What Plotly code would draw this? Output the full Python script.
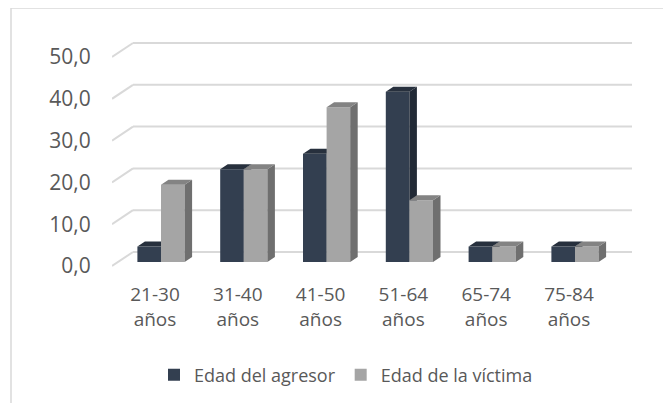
import plotly.graph_objects as go

# ---------------- data ----------------
categories = ["21-30<br>años", "31-40<br>años", "41-50<br>años",
              "51-64<br>años", "65-74<br>años", "75-84<br>años"]
agresor = [3.7, 22.2, 25.9, 40.7, 3.7, 3.7]
victima = [18.5, 22.2, 37.0, 14.8, 3.7, 3.7]
y_ticks = [0, 10, 20, 30, 40, 50]
y_ticktext = ["0,0", "10,0", "20,0", "30,0", "40,0", "50,0"]
series_names = ["Edad del agresor", "Edad de la víctima"]

# ---------------- style / geometry ----------------
PAGE_W, PAGE_H = 671, 403
BODY = 8                                 # default page body margin
W, H = PAGE_W - BODY, PAGE_H - BODY      # figure size
L, R, T, B = 112, 640, 30, 275          # plot area in page px
XU = 82.8                                # px per category
YU = 4.18                                # px per value unit
xmin = -(161 - L) / XU
xmax = xmin + (R - L) / XU
ymax = (262 - T) / YU
ymin = -(B - 262) / YU

BAR_W = 0.285
BAR_DX = 7.5 / XU     # bar depth (x)
BAR_DY = 5.0 / YU     # bar depth (y)
FRONT_DX = -6 / XU    # floor front relative to bar plane
FRONT_DY = -4 / YU
BACK_DX = 15 / XU     # back wall relative to bar plane
BACK_DY = 10 / YU
WALL_RIGHT = 5 + (632 - 575) / XU

C_AGR = ["#333F50", "#222A36", "#27303D"]   # front, side, top
C_VIC = ["#A5A5A5", "#6F6F6F", "#838383"]
GRID = "#D9D9D9"
TXT = "#595959"
FONT = "Open Sans"

xs = list(range(len(categories)))


def faces(values, offset):
    sx, sy, tx, ty = [], [], [], []
    for i, v in zip(xs, values):
        x0 = i + offset
        x1 = x0 + BAR_W
        # side
        sx += [x1, x1, x1 + BAR_DX, x1 + BAR_DX, x1, None]
        sy += [0, v, v + BAR_DY, BAR_DY, 0, None]
        # top
        tx += [x0, x1, x1 + BAR_DX, x0 + BAR_DX, x0, None]
        ty += [v, v, v + BAR_DY, v + BAR_DY, v, None]
    return sx, sy, tx, ty


fig = go.Figure()


def add_series(values, offset, colors, name, xa, ya):
    fig.add_trace(go.Bar(x=xs, y=values, width=BAR_W, offset=offset,
                         marker=dict(color=colors[0], line=dict(width=0)),
                         name=name, xaxis=xa, yaxis=ya, hoverinfo="y"))
    sx, sy, tx, ty = faces(values, offset)
    fig.add_trace(go.Scatter(x=sx, y=sy, fill="toself", fillcolor=colors[1],
                             mode="lines", line=dict(width=0, color=colors[1]),
                             showlegend=False, hoverinfo="skip", xaxis=xa, yaxis=ya))
    fig.add_trace(go.Scatter(x=tx, y=ty, fill="toself", fillcolor=colors[2],
                             mode="lines", line=dict(width=0, color=colors[2]),
                             showlegend=False, hoverinfo="skip", xaxis=xa, yaxis=ya))


add_series(agresor, -BAR_W, C_AGR, series_names[0], "x", "y")
add_series(victima, 0.0, C_VIC, series_names[1], "x2", "y2")

# gridlines (left side wall + back wall)
shapes = []
for t in y_ticks:
    xf, yf = xmin, t + FRONT_DY
    xb, yb = xmin + (BACK_DX - FRONT_DX), t + BACK_DY
    shapes.append(dict(type="line", xref="x", yref="y", x0=xf, y0=yf, x1=xb, y1=yb,
                       line=dict(color=GRID, width=2), layer="below"))
    shapes.append(dict(type="line", xref="x", yref="y", x0=xb, y0=yb, x1=WALL_RIGHT, y1=yb,
                       line=dict(color=GRID, width=2), layer="below"))
# chart border
shapes.append(dict(type="rect", xref="paper", yref="paper",
                   x0=(11 - L) / (R - L), x1=(PAGE_W + 5 - L) / (R - L),
                   y0=(B - (PAGE_H + 10)) / (B - T), y1=(B - 8) / (B - T),
                   line=dict(color=GRID, width=1.5), layer="below"))

axis_common = dict(showgrid=False, zeroline=False, showline=False, automargin=False)
fig.update_layout(
    width=W, height=H,
    margin=dict(l=L - BODY, r=PAGE_W - R, t=T - BODY, b=PAGE_H - B, autoexpand=False),
    paper_bgcolor="white", plot_bgcolor="white",
    barmode="overlay",
    font=dict(family=FONT, color=TXT),
    shapes=shapes,
    xaxis=dict(range=[xmin, xmax], tickvals=[i + FRONT_DX for i in xs], ticktext=categories,
               ticks="outside", ticklen=2, tickcolor="rgba(0,0,0,0)",
               tickfont=dict(size=19, color=TXT, family=FONT), **axis_common),
    yaxis=dict(range=[ymin, ymax], tickvals=[t + FRONT_DY for t in y_ticks], ticktext=y_ticktext,
               ticks="outside", ticklen=16, tickcolor="rgba(0,0,0,0)",
               tickfont=dict(size=21, color=TXT, family=FONT), **axis_common),
    xaxis2=dict(range=[xmin, xmax], overlaying="x", visible=False, **axis_common),
    yaxis2=dict(range=[ymin, ymax], overlaying="y", visible=False, **axis_common),
    legend=dict(orientation="h", x=(346 - L) / (R - L), xanchor="center",
                y=(B - 375) / (B - T), yanchor="middle",
                font=dict(size=18, color=TXT, family=FONT), bgcolor="rgba(0,0,0,0)"),
    showlegend=True,
)

fig.write_html("out.html")
